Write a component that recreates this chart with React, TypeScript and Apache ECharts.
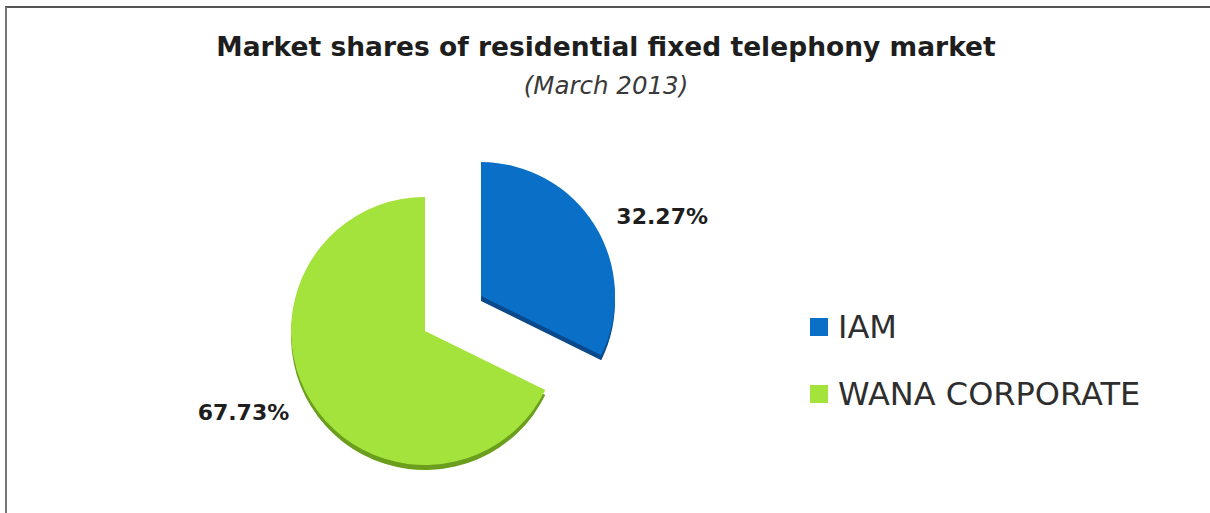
import React, { useEffect, useRef } from "react";
import * as echarts from "echarts";

const categories = ["IAM", "WANA CORPORATE"];
const shares = [32.27, 67.73];
const colors = ["#0a6fc6", "#a4e23c"];
const rimColors = ["#0a4a8c", "#6a9e1c"];

export default function App() {
  const ref = useRef<HTMLDivElement>(null);
  useEffect(() => {
    if (!ref.current) return;
    const chart = echarts.init(ref.current, null, { renderer: "svg" });
    const data = categories.map((name, i) => ({
      name,
      value: shares[i],
      selected: i === 0,
      itemStyle: { color: colors[i] },
      labelLine: i === 0 ? { length: 16, length2: 3 } : { length: 20, length2: 0 },
    }));
    const rimData = categories.map((name, i) => ({
      name,
      value: shares[i],
      selected: i === 0,
      itemStyle: { color: rimColors[i] },
    }));
    chart.setOption({
      animation: false,
      backgroundColor: "#ffffff",
      title: {
        text: "Market shares of residential fixed telephony market",
        subtext: "(March 2013)",
        left: 601,
        textAlign: "center",
        top: 26,
        itemGap: 11,
        textStyle: { fontFamily: "DejaVu Sans", fontWeight: "bold", fontSize: 26.5, lineHeight: 30, color: "#1e1e1e" },
        subtextStyle: { fontFamily: "DejaVu Sans", fontStyle: "italic", fontSize: 24.5, lineHeight: 26, color: "#3a3a3a" },
      },
      legend: {
        orient: "vertical",
        left: 805,
        top: 306,
        itemGap: 35,
        itemWidth: 18,
        itemHeight: 18,
        icon: "rect",
        data: categories,
        selectedMode: false,
        textStyle: { fontFamily: "DejaVu Sans", fontSize: 32, lineHeight: 30, color: "#2e2e2e", padding: [0, 0, 0, 5] },
      },
      graphic: [
        { type: "line", shape: { x1: 5, y1: 7, x2: 1210, y2: 7 }, style: { stroke: "#555555", lineWidth: 2 } },
        { type: "line", shape: { x1: 6, y1: 7, x2: 6, y2: 513 }, style: { stroke: "#777777", lineWidth: 2 } },
      ],
      series: [
        {
          type: "pie",
          name: "Market share",
          z: 2,
          center: [425, 331],
          radius: [0, 134],
          startAngle: 90,
          clockwise: true,
          selectedMode: "single",
          selectedOffset: 66,
          emphasis: { disabled: true },
          label: {
            show: true,
            position: "outside",
            alignTo: "none",
            formatter: (p: any) => p.value.toFixed(2) + "%",
            fontFamily: "DejaVu Sans",
            fontWeight: "bold",
            fontSize: 22,
            color: "#1e1e1e",
          },
          labelLine: { show: false },
          data,
        },
        {
          type: "pie",
          name: "rim",
          silent: true,
          z: 1,
          center: [425, 336],
          radius: [0, 134],
          startAngle: 90,
          clockwise: true,
          selectedMode: "single",
          selectedOffset: 66,
          label: { show: false },
          labelLine: { show: false },
          emphasis: { disabled: true },
          data: rimData,
        },
      ],
    });
    return () => chart.dispose();
  }, []);
  return <div ref={ref} style={{ position: "absolute", left: 0, top: 0, width: 1210, height: 513 }} />;
}
